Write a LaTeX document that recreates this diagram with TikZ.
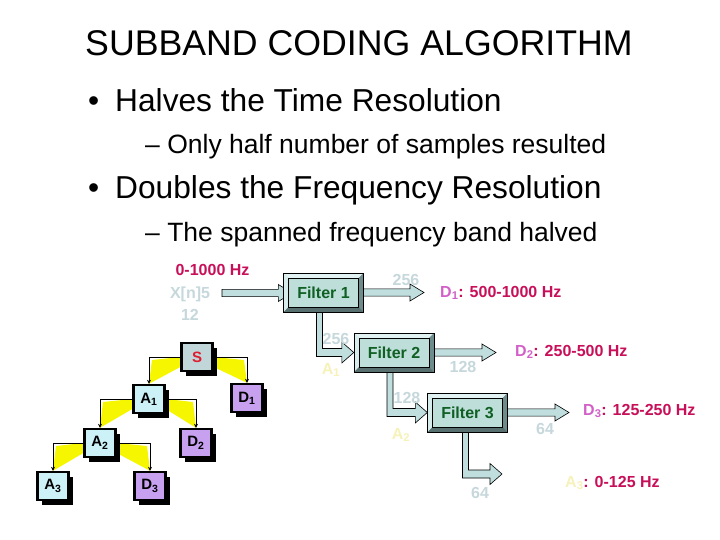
\documentclass[tikz,border=0pt]{standalone}
\usepackage{fontspec}
\setmainfont{Liberation Sans}
\usetikzlibrary{arrows.meta, positioning, calc, shadows, backgrounds}

\definecolor{hzred}{RGB}{200,16,90}
\definecolor{dmag}{RGB}{210,96,200}
\definecolor{numgray}{RGB}{198,216,220}
\definecolor{ayel}{RGB}{246,242,186}
\definecolor{filtgreen}{RGB}{16,96,36}
\definecolor{filtface}{RGB}{190,222,218}
\definecolor{bevlight}{RGB}{226,242,242}
\definecolor{bevdark}{RGB}{110,140,140}
\definecolor{arrfill}{RGB}{192,222,222}
\definecolor{sfill}{RGB}{192,214,216}
\definecolor{afill}{RGB}{204,242,248}
\definecolor{dfill}{RGB}{200,160,240}
\definecolor{sred}{RGB}{222,30,48}
\definecolor{wedge}{RGB}{246,246,0}

% block arrows, from a named point to a named tip
\newcommand\blockarrow[2]{%
  \draw[blockarr] let \p1=(#1), \p2=(#2) in
    (\x1,\y1+3.6pt) -- (\x2-14pt,\y1+3.6pt) -- (\x2-14pt,\y1+8.5pt) -- (\x2,\y1)
    -- (\x2-14pt,\y1-8.5pt) -- (\x2-14pt,\y1-3.6pt) -- (\x1,\y1-3.6pt) -- cycle;}
\newcommand\elbowarrow[2]{%
  \draw[blockarr] let \p1=(#1), \p2=(#2) in
    (\x1-3pt,\y1) -- (\x1-3pt,\y2-4pt) -- (\x2-12pt,\y2-4pt) -- (\x2-12pt,\y2-10.5pt) -- (\x2,\y2)
    -- (\x2-12pt,\y2+10.5pt) -- (\x2-12pt,\y2+4pt) -- (\x1+3pt,\y2+4pt) -- (\x1+3pt,\y1) -- cycle;}

\begin{document}
\begin{tikzpicture}[x=1pt, y=-1pt,
    txt/.style={inner sep=0pt, font=\fontsize{16}{19}\selectfont\bfseries},
    num/.style={txt, text=numgray},
    hz/.style={txt, text=hzred, anchor=west},
    line/.style={anchor=base west, inner sep=0pt},
    filt/.style={draw, fill=filtface, minimum width=80pt, minimum height=39pt, txt, text=filtgreen,
      path picture={
        \path (path picture bounding box.north west) coordinate (bnw)
              (path picture bounding box.north east) coordinate (bne)
              (path picture bounding box.south east) coordinate (bse)
              (path picture bounding box.south west) coordinate (bsw);
        \fill[bevlight] (bnw) -- (bne) -- ([shift={(-5pt,-5pt)}]bne) -- ([shift={(5pt,-5pt)}]bnw) -- cycle;
        \fill[bevlight!70!filtface] (bnw) -- (bsw) -- ([shift={(5pt,5pt)}]bsw) -- ([shift={(5pt,-5pt)}]bnw) -- cycle;
        \fill[bevdark] (bne) -- (bse) -- ([shift={(-5pt,5pt)}]bse) -- ([shift={(-5pt,-5pt)}]bne) -- cycle;
        \fill[bevdark!80!black] (bsw) -- (bse) -- ([shift={(-5pt,5pt)}]bse) -- ([shift={(5pt,5pt)}]bsw) -- cycle;
        \draw[line width=0.5pt] ([shift={(5pt,-5pt)}]bnw) rectangle ([shift={(-5pt,5pt)}]bse);
      }},
    blockarr/.style={draw, fill=arrfill, line width=0.6pt},
    tbox/.style={draw, line width=2.4pt, minimum width=31pt, minimum height=28pt, inner sep=0pt,
      font=\fontsize{15}{17}\selectfont\bfseries,
      drop shadow={shadow xshift=4.5pt, shadow yshift=-4.5pt, fill=black, opacity=1}},
    tline/.style={line width=0.6pt, -{Stealth[length=4pt, width=4pt]}}
  ]
  \useasboundingbox (0,0) rectangle (720,540);

  % title and bullets
  \node[line, font=\fontsize{35.7}{40}\selectfont] (title) at (85,56) {SUBBAND CODING ALGORITHM};
  \node[line, font=\fontsize{31.7}{36}\selectfont] (dot1) at (88,112) {•};
  \node[line, font=\fontsize{31.7}{36}\selectfont] (b1) at (115,112) {Halves the Time Resolution};
  \node[line, font=\fontsize{26.5}{30}\selectfont] (s1) at (145,154) {– Only half number of samples resulted};
  \node[line, font=\fontsize{31.7}{36}\selectfont] (dot2) at (88,199) {•};
  \node[line, font=\fontsize{31.7}{36}\selectfont] (b2) at (115,199) {Doubles the Frequency Resolution};
  \node[line, font=\fontsize{26.5}{30}\selectfont] (s2) at (145,241) {– The spanned frequency band halved};

  % filter bank
  \node[filt] (f1) at (323.5,292.5) {Filter 1};
  \node[filt] (f2) at (394,352.5) {Filter 2};
  \node[filt] (f3) at (467.5,412.5) {Filter 3};
  \coordinate (xin) at (222,293);
  \coordinate (d1tip) at (424,293);
  \coordinate (d2tip) at (496,352.5);
  \coordinate (d3tip) at (569,412.5);
  \coordinate (a3tip) at (502,474);

  \node[txt, text=hzred] (band) at (212.5,270) {0-1000 Hz};
  \node[num, align=center, font=\fontsize{16}{22}\selectfont\bfseries] (xn) at (190,304) {X[n]5\\12};
  \node[num] (n256a) at (406,280) {256};
  \node[num] (n256b) at (336,339) {256};
  \node[num] (n128a) at (463,367) {128};
  \node[num] (n128b) at (407,398) {128};
  \node[num] (n64a) at (545,429) {64};
  \node[num] (n64b) at (480,493) {64};
  \node[txt, text=ayel] (la1) at (331,370) {A\textsubscript{1}};
  \node[txt, text=ayel] (la2) at (401,435) {A\textsubscript{2}};
  \node[hz] (ld1) at (440,293) {\textcolor{dmag}{D\textsubscript{1}}: 500-1000 Hz};
  \node[hz] (ld2) at (515,352) {\textcolor{dmag}{D\textsubscript{2}}: 250-500 Hz};
  \node[hz] (ld3) at (583,411) {\textcolor{dmag}{D\textsubscript{3}}: 125-250 Hz};
  \node[hz] (la3) at (565,483) {\textcolor{ayel}{A\textsubscript{3}}: 0-125 Hz};

  % decomposition tree
  \node[tbox, fill=sfill, text=sred] (s) at (197,357) {S};
  \node[tbox, fill=afill] (a1) at (149,399) {A\textsubscript{1}};
  \node[tbox, fill=dfill] (d1) at (247,398) {D\textsubscript{1}};
  \node[tbox, fill=afill] (a2) at (100,443) {A\textsubscript{2}};
  \node[tbox, fill=dfill] (d2) at (196,443) {D\textsubscript{2}};
  \node[tbox, fill=afill] (a3) at (53,486) {A\textsubscript{3}};
  \node[tbox, fill=dfill] (d3) at (150,486) {D\textsubscript{3}};

  \begin{scope}[on background layer]
    \fill[white] (0,0) rectangle (720,540);
    \blockarrow{xin}{[xshift=9pt]f1.west}
    \blockarrow{f1.center}{d1tip}
    \blockarrow{f2.center}{d2tip}
    \blockarrow{f3.center}{d3tip}
    \elbowarrow{[xshift=-4pt]f1.center}{f2.west}
    \elbowarrow{[xshift=-4pt]f2.center}{f3.west}
    \elbowarrow{[xshift=-2pt]f3.center}{a3tip}
    % yellow wedges under the links
    \fill[wedge] (s.west) -- ([yshift=-10pt]s.west) -- (a1.north) -- ([shift={(3pt,-3pt)}]a1 |- s.west) -- cycle;
    \fill[wedge] (s.east) -- ([yshift=-10pt]s.east) -- (d1.north) -- ([shift={(-3pt,-3pt)}]d1 |- s.east) -- cycle;
    \fill[wedge] (a1.west) -- ([yshift=-10pt]a1.west) -- (a2.north) -- ([shift={(3pt,-3pt)}]a2 |- a1.west) -- cycle;
    \fill[wedge] (a1.east) -- ([yshift=-10pt]a1.east) -- (d2.north) -- ([shift={(-3pt,-3pt)}]d2 |- a1.east) -- cycle;
    \fill[wedge] (a2.west) -- ([yshift=-10pt]a2.west) -- (a3.north) -- ([shift={(3pt,-3pt)}]a3 |- a2.west) -- cycle;
    \fill[wedge] (a2.east) -- ([yshift=-10pt]a2.east) -- (d3.north) -- ([shift={(-3pt,-3pt)}]d3 |- a2.east) -- cycle;
    \draw[tline] (s.west) -| (a1.north);
    \draw[tline] (s.east) -| (d1.north);
    \draw[tline] (a1.west) -| (a2.north);
    \draw[tline] (a1.east) -| (d2.north);
    \draw[tline] (a2.west) -| (a3.north);
    \draw[tline] (a2.east) -| (d3.north);
  \end{scope}
\end{tikzpicture}
\end{document}
